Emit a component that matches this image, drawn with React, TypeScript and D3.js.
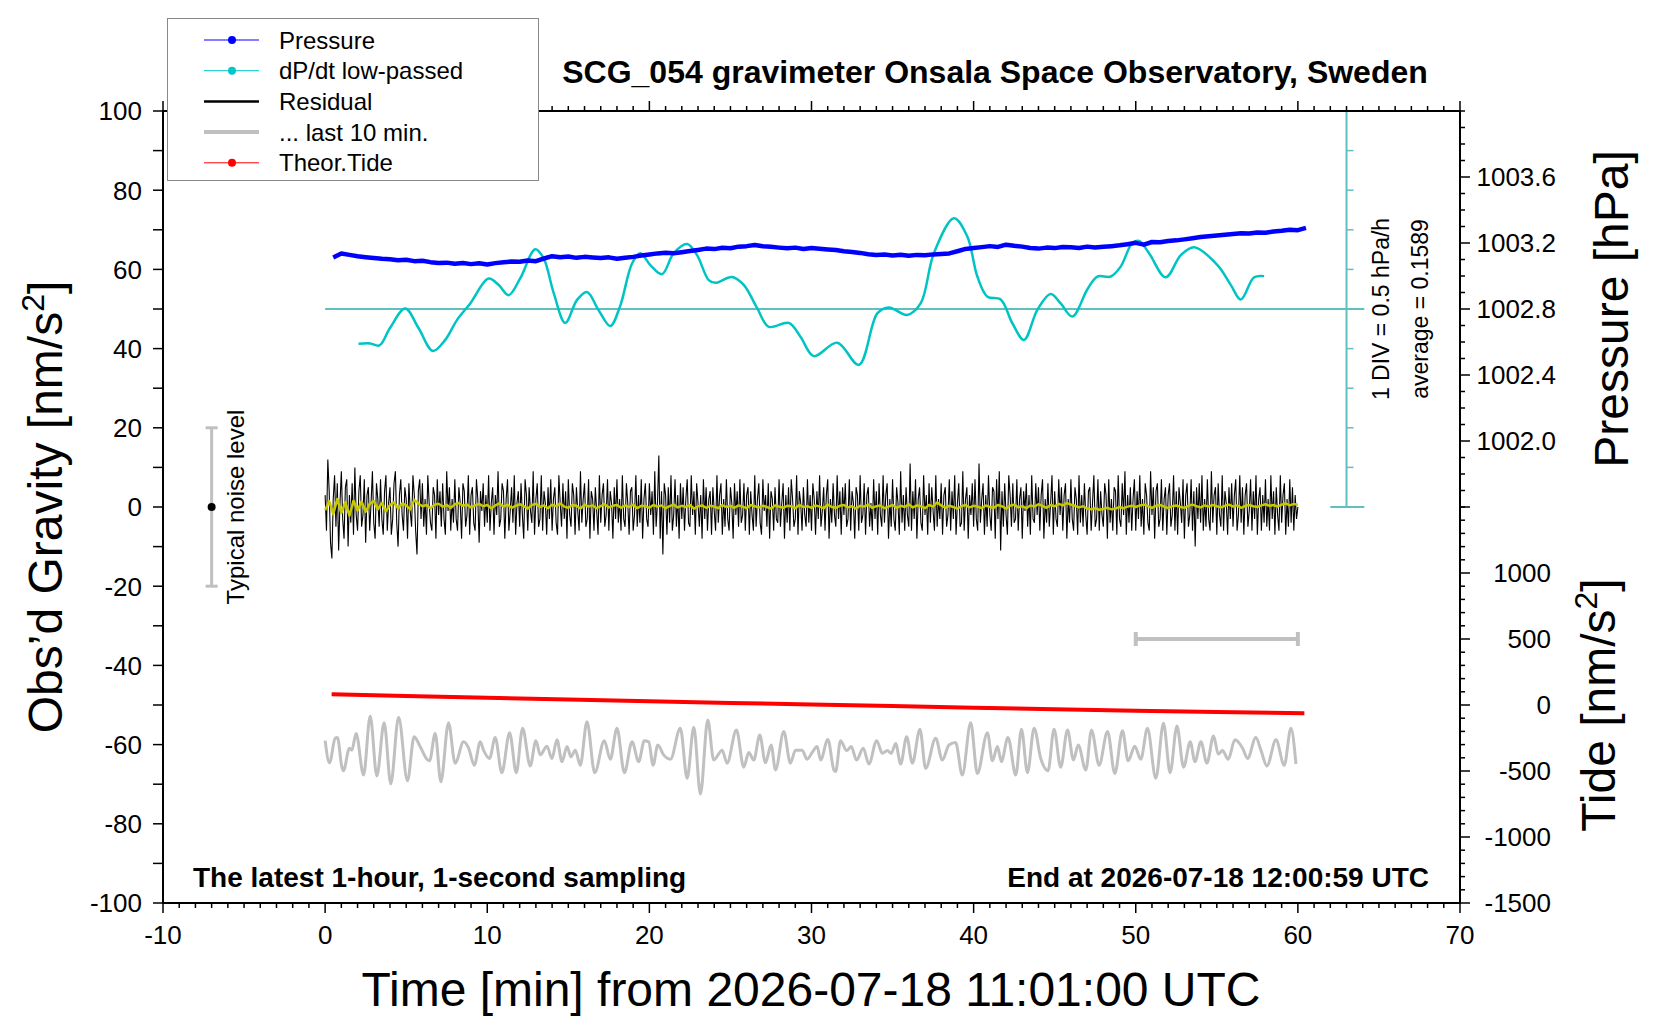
import React from 'react';
import * as d3 from 'd3';

// Pressure, hPa, read every 30 s off the blue trace (t = 0.5 ... 60.5 min)
const pressureStart = 0.5;
const pressureStep = 0.5;
const pressureHpa = [
  1003.112, 1003.136, 1003.128, 1003.12, 1003.114, 1003.109, 1003.104, 1003.101, 1003.096, 1003.099,
  1003.09, 1003.092, 1003.084, 1003.079, 1003.081, 1003.074, 1003.079, 1003.072, 1003.077, 1003.07,
  1003.078, 1003.083, 1003.088, 1003.086, 1003.094, 1003.09, 1003.106, 1003.12, 1003.114, 1003.118,
  1003.11, 1003.116, 1003.112, 1003.109, 1003.113, 1003.105, 1003.11, 1003.116, 1003.124, 1003.13,
  1003.137, 1003.141, 1003.138, 1003.144, 1003.151, 1003.158, 1003.166, 1003.163, 1003.171, 1003.168,
  1003.178, 1003.181, 1003.188, 1003.18, 1003.177, 1003.172, 1003.168, 1003.172, 1003.164, 1003.17,
  1003.165, 1003.161, 1003.157, 1003.15, 1003.146, 1003.14, 1003.132, 1003.127, 1003.13, 1003.124,
  1003.129, 1003.123, 1003.128, 1003.126, 1003.131, 1003.134, 1003.137, 1003.15, 1003.164, 1003.17,
  1003.175, 1003.181, 1003.176, 1003.19, 1003.183, 1003.178, 1003.17, 1003.166, 1003.172, 1003.169,
  1003.176, 1003.174, 1003.17, 1003.178, 1003.173, 1003.177, 1003.181, 1003.186, 1003.193, 1003.201,
  1003.19, 1003.206, 1003.204, 1003.212, 1003.216, 1003.222, 1003.229, 1003.236, 1003.241, 1003.245,
  1003.25, 1003.254, 1003.259, 1003.257, 1003.264, 1003.262, 1003.27, 1003.274, 1003.28, 1003.278,
  1003.292,
];

// dP/dt low-passed, hPa/h
const dpdtMin = [
  2.06, 2.78, 3.35, 4.0, 4.94, 5.76, 6.65, 7.41, 8.13, 8.95,
  10.08, 10.7, 11.32, 12.04, 12.96, 13.48, 14.1, 14.81, 15.54, 16.15,
  16.87, 17.59, 18.2, 18.93, 19.44, 20.06, 20.78, 21.5, 22.33, 22.94,
  23.66, 24.07, 25.1, 25.82, 26.65, 27.37, 28.6, 29.32, 30.14, 31.59,
  32.92, 34.06, 34.77, 35.9, 36.73, 37.55, 38.79, 39.61, 40.23, 40.85,
  41.67, 42.39, 43.11, 43.93, 44.75, 45.37, 46.09, 47.02, 47.63, 48.46,
  49.07, 49.79, 50.2, 50.82, 51.85, 52.78, 53.6, 55.04, 55.86, 56.48,
  57.3, 57.92,
];
const dpdtRate = [
  -0.44, -0.435, -0.46, -0.24, 0.005, -0.24, -0.53, -0.39, -0.14, 0.07,
  0.385, 0.305, 0.175, 0.39, 0.755, 0.64, 0.2, -0.175, 0.115, 0.215,
  -0.015, -0.215, 0.04, 0.575, 0.705, 0.555, 0.44, 0.705, 0.82, 0.68,
  0.365, 0.33, 0.405, 0.305, 0.01, -0.225, -0.175, -0.35, -0.595, -0.425,
  -0.705, -0.055, 0.02, -0.075, 0.07, 0.705, 1.145, 0.915, 0.41, 0.155,
  0.12, -0.18, -0.39, -0.01, 0.19, 0.07, -0.095, 0.25, 0.41, 0.41,
  0.535, 0.835, 0.86, 0.705, 0.4, 0.68, 0.78, 0.555, 0.305, 0.12,
  0.4, 0.415,
];
const dpdtAverage = 0.1589;
const dpdtDiv = 0.5;

// residual, nm/s^2, one value every 5 s from 0 to 60 min
const resStep = 1 / 12;
const residual = [
  3, -6, 12, 4, -9, -13, 2, 8, -5, 6, -11, 1, 9, -3, -8, 5, 7, -10, 3, -4, 6, -7, 10, -2,
  -6, 4, 8, -5, -2, 7, -9, 3, 5, -6, 1, 9, -4, -8, 6, 2, -5, 7, -3, -7, 4, 8, -6, 1,
  5, -7, -3, 6, 9, -4, -10, 3, 7, -2, -6, 5, 2, -8, 6, -1, -5, 8, 3, -6, -12, 4, 7, -3,
  6, -5, 2, -7, 8, 1, -4, -6, 5, 3, -8, 7, -2, 4, -5, 6, -3, -7, 9, -1, 5, -6, 2, -4,
  7, -3, -6, 5, 1, -8, 6, 4, -5, -2, 8, -7, 3, 5, -4, -6, 7, 2, -9, 4, -1, 6, -5, 3,
  -4, 8, -6, 1, 5, -7, 3, -2, 9, -5, -3, 6, 4, -8, 2, 7, -6, -1, 5, -4, 8, -7, 1, 4,
  -5, 6, -2, -8, 7, 3, -6, 5, -1, -4, 9, -7, 2, 6, -5, -3, 8, -6, 4, 1, -7, 5, -3, 7,
  -6, 2, 5, -4, -7, 8, 1, -5, 6, -3, 4, -8, 7, -2, -5, 6, 3, -7, 5, -1, -6, 9, -4, 2,
  6, -5, -3, 7, -8, 4, 2, -6, 5, -1, -7, 8, -4, 3, 6, -5, -2, 7, -6, 4, 1, -8, 5, -3,
  7, -4, 2, -6, 8, -3, -5, 6, 1, -7, 4, 5, -6, -2, 8, -5, 3, -4, 7, -8, 2, 6, -3, -5,
  6, -2, 4, -7, 9, -5, 1, 13, -8, 4, -12, 6, 3, -7, 5, -4, 8, -6, -2, 7, -5, 3, -8, 6,
  -3, 5, -6, 2, 7, -4, -5, 8, -2, 4, -7, 6, 1, -5, 3, -8, 7, -3, 5, -6, 2, 4, -7, 5,
  -1, -6, 8, -4, 3, 6, -7, 2, -5, 7, -3, -6, 5, 1, -8, 6, -2, 4, -5, 7, -4, -2, 6, -6,
  3, 5, -7, 4, -2, -6, 8, -5, 2, 6, -4, -7, 7, -1, 3, -5, 6, -8, 4, 2, -6, 5, -3, -4,
  7, -5, 1, 6, -8, 3, -4, 5, -6, 7, 2, -5, -3, 8, -7, 4, 1, -6, 5, -2, -5, 7, -4, 3,
  -6, 6, 2, -7, 4, -3, 8, -5, -1, 5, -6, 3, 7, -8, 2, -4, 6, -2, -5, 8, -3, 4, -7, 5,
  -2, 6, -5, -3, 7, -6, 4, 1, -8, 5, 3, -6, 8, -4, -2, 6, -7, 3, 5, -5, 1, -6, 7, -3,
  4, -7, 6, -2, -5, 8, -4, 3, 6, -8, 2, -5, 7, -3, -6, 5, 1, -7, 9, -4, 3, -6, 5, -2,
  -5, 11, -6, 4, -3, 7, -8, 2, 5, -4, -6, 8, -2, 3, -7, 6, -4, 5, -1, -6, 8, -5, 2, -3,
  6, -7, 3, 5, -5, -2, 7, -6, 4, -3, 8, -7, 1, 6, -5, -4, 9, -6, 2, 5, -8, 3, -2, 6,
  -5, 7, -3, -6, 11, -4, 2, 6, -7, 3, -5, 8, -2, -6, 5, 4, -8, 7, -3, 9, -11, 4, -5, 6,
  -2, -7, 8, 3, -5, 6, -4, -3, 7, -6, 2, 5, -8, 4, -1, 6, -5, 3, -7, 8, -3, -4, 6, -2,
  5, -6, 3, 7, -8, 2, -4, 6, -5, 1, 8, -7, 4, -3, -5, 7, -2, 5, -6, 3, 6, -8, 2, -4,
  7, -3, -6, 5, 2, -7, 8, -4, 3, -5, 6, -2, -7, 4, 5, -6, 1, 8, -5, -3, 7, -6, 4, -2,
  -5, 6, 3, -8, 7, -4, 2, -6, 5, 4, -7, 8, -3, -5, 6, -2, 9, -7, 3, -4, 5, -6, 2, 7,
  -6, 4, -3, 8, -5, 2, -7, 6, 3, -4, -6, 9, -2, 5, -8, 4, 6, -5, -3, 7, -6, 2, 5, -7,
  3, 6, -5, -2, 8, -6, 4, -7, 5, 1, -4, 7, -8, 3, 6, -5, -2, 7, -6, 4, -10, 5, -3, 6,
  -4, 8, -6, 2, -5, 7, -3, -6, 9, -4, 3, 5, -7, 6, -2, -5, 8, -6, 4, 1, -7, 5, -3, 6,
  -5, 3, 7, -6, -2, 8, -4, 5, -7, 3, 6, -5, -1, 7, -6, 4, -3, 8, -7, 2, 5, -6, 3, -4,
  7, -5, 2, -6, 8, -3, 4, -7, 5, -2, -6, 8, -4, 3, 6, -7, 2, -5, 7, -4, 5, -6, 3, -3,
  0,
];

// smoothed residual (yellow), every 15 s
const smoothStep = 0.25;
const residualSmooth = [
  -0.8, 1.5, -1.8, 2.0, -1.5, 1.2, -2.2, 1.6, -0.9, 1.4, -1.2, 0.8, 1.5, -0.6, 1.0, -1.1, 0.5, 1.2, -0.4, 0.9,
  0.4, -0.6, 1.8, 0.9, 0.2, 0.5, -0.3, 0.6, 0.8, 0.1, 0.5, -0.2, 0.7, 1.0, 0.3, 0.6, -0.1, 0.4, 0.8, 0.2,
  0.5, -0.3, 0.4, 0.9, 0.1, 0.6, -0.2, 0.3, 0.7, 0.2, -0.4, 0.5, 0.8, 0.0, 0.4, -0.3, 0.6, 0.2, 0.9, 0.1,
  -0.2, 0.5, 0.3, -0.4, 0.6, 0.1, 0.4, -0.3, 0.2, 0.7, -0.1, 0.3, 0.5, -0.2, 0.4, 0.0, 0.6, -0.3, 0.3, 0.2,
  -0.2, 0.5, 0.1, 0.4, -0.3, 0.2, 0.6, -0.1, 0.3, 0.0, 0.5, -0.4, 0.2, 0.4, -0.2, 0.3, 0.1, -0.3, 0.5, 0.0,
  0.3, -0.2, 0.4, 0.1, -0.3, 0.5, 0.2, -0.1, 0.3, 0.0, -0.4, 0.4, 0.1, -0.2, 0.3, 0.2, -0.3, 0.5, 0.0, 0.2,
  -0.2, 0.4, 0.1, -0.3, 0.6, 0.0, -0.2, 0.3, 0.5, -0.1, 0.2, -0.4, 0.3, 0.1, 0.6, -0.2, 0.2, 0.4, -0.3, 0.1,
  0.5, -0.2, 0.3, 0.0, 0.7, -0.1, 0.4, 0.2, -0.3, 0.5, 0.1, 1.2, 0.4, -0.2, 0.3, 0.0, -0.4, 0.2, 0.5, -0.1,
  0.3, 0.1, -0.3, 0.4, 0.0, -0.2, 0.5, 0.2, -0.4, 0.3, 0.6, -0.1, 0.2, -0.3, 0.4, 0.1, 0.7, 0.3, -0.2, 0.5,
  0.2, 0.8, 0.4, 1.0, 0.6, 0.3, -0.1, 0.2, -0.4, -0.6, -0.3, -0.7, -0.5, -0.2, -0.6, -0.4, 0.0, -0.3, 0.1, 0.3,
  0.0, 0.4, 0.6, 0.2, -0.2, 0.3, 0.5, 0.1, -0.3, 0.2, 0.4, 0.0, -0.2, 0.3, 0.6, 0.2, -0.1, 0.4, 0.1, 0.5,
  0.2, -0.1, 0.3, 0.6, 0.1, 0.4, -0.2, 0.3, 0.5, 0.2, 0.0, 0.4, 0.7, 0.3, 0.5, 0.1, 0.6, 0.9, 0.4, 0.8,
  0.5,
];

// last 10 min of the residual, stretched over the hour (grey trace)
const lastMin = [
  0.0, 0.27, 0.62, 0.76, 1.03, 1.13, 1.5, 1.65, 1.91, 2.37,
  2.78, 3.19, 3.64, 4.05, 4.53, 5.08, 5.49, 5.86, 6.28, 6.44,
  6.79, 7.14, 7.61, 8.02, 8.54, 8.85, 9.2, 9.57, 9.77, 10.14,
  10.49, 10.9, 11.38, 11.79, 12.18, 12.65, 13.0, 13.27, 13.68, 13.99,
  14.3, 14.61, 14.92, 15.16, 15.43, 15.74, 16.15, 16.63, 17.22, 17.59,
  18.0, 18.46, 18.93, 19.34, 19.69, 19.96, 20.23, 20.52, 20.88, 21.3,
  21.91, 22.33, 22.74, 23.15, 23.6, 23.97, 24.49, 24.79, 25.37, 25.82,
  26.13, 26.44, 26.81, 27.16, 27.51, 27.78, 28.29, 28.7, 29.01, 29.42,
  29.73, 30.04, 30.35,
  30.56, 31.01, 31.38, 31.49, 31.79, 32.17, 32.45, 32.78, 33.19, 33.54,
  34.02, 34.37, 34.68, 34.92, 35.19, 35.5, 35.87, 36.22, 36.69, 37.04,
  37.66, 38.07, 38.48, 38.89, 39.3, 39.82, 40.23, 40.85, 41.16, 41.47,
  41.71, 42.12, 42.6, 42.95, 43.32, 43.73, 44.14, 44.59, 44.96, 45.37,
  45.79, 46.16, 46.45, 46.92, 47.27, 47.74, 48.26, 48.71, 49.18, 49.53,
  49.94, 50.31, 50.72, 51.24, 51.71, 52.12, 52.54, 52.95, 53.36, 53.65,
  54.02, 54.39, 54.8, 55.09, 55.35, 55.7, 56.12, 56.59, 56.9, 57.41,
  57.72, 58.09, 58.65, 59.16, 59.57, 59.88,
];
const lastVal = [
  2.0, -3.6, 2.6, 2.8, -4.6, -5.6, 0.1, -0.4, 3.8, -6.7,
  8.2, -6.9, 6.5, -8.9, 7.9, -8.1, 3.0, 0.5, -2.7, -3.1,
  3.8, -8.4, 6.5, -3.7, 1.7, 0.1, -4.2, 1.7, -0.4, -2.5,
  2.8, -6.1, 4.0, -6.1, 5.1, -4.4, 2.0, -1.6, 0.6, -2.5,
  2.2, -3.3, 0.5, -2.1, -0.4, -4.2, 6.8, -6.1, 2.0, -2.7,
  5.1, -6.1, 1.7, -3.3, 2.0, 1.7, -4.2, 0.9, -1.6, -2.7,
  5.1, -7.5, 5.4, -11.5, 7.2, -2.9, -0.4, -3.7, 4.7, -4.7,
  -1.0, -2.9, 3.4, -3.6, 0.9, -5.4, 4.3, -3.7, -0.4, -0.4,
  -2.7, -1.0, 0.5,
  -2.9, 2.3, -5.4, -5.8, 2.0, -0.5, 0.5, -2.9, 0.1, -3.9,
  2.0, -1.2, -0.5, -1.2, 1.3, -3.9, 3.0, -3.7, 4.9, -5.0,
  2.6, -2.9, 0.9, 1.5, -6.7, 6.5, -6.3, 4.0, -3.1, 0.5,
  -3.3, 2.8, -6.7, 4.9, -6.1, 5.1, -2.5, -5.6, 4.9, -4.7,
  4.7, -2.9, 0.9, -5.4, 4.7, -4.2, 4.3, -6.3, 4.5, -3.1,
  0.6, -2.7, 5.1, -7.5, 6.4, -6.1, 5.7, -4.7, 1.7, -3.3,
  1.7, -3.7, 3.2, -1.4, -0.5, -2.7, 2.2, 0.1, -2.5, 2.8,
  -0.4, -4.4, 2.2, -4.2, 5.1, -3.9,
];
const lastOffset = -61;

// theoretical tide, nm/s^2
const tideMin = [0.4, 5, 10, 15, 20, 25, 30, 35, 40, 45, 50, 55, 60.4];
const tideVal = [81, 69, 55, 42, 29, 16, 4, -8, -20, -32, -43, -53, -63];

const pressureLabels = [1002.0, 1002.4, 1002.8, 1003.2, 1003.6];
const tideLabels = [-1500, -1000, -500, 0, 500, 1000];
const noiseLevel = 20;

const legendItems = [
  { label: 'Pressure', color: '#0000ff', width: 1, dot: true },
  { label: 'dP/dt low-passed', color: '#00c8c8', width: 1, dot: true },
  { label: 'Residual', color: '#000000', width: 2.5, dot: false },
  { label: '... last 10 min.', color: '#c0c0c0', width: 4, dot: false },
  { label: 'Theor.Tide', color: '#ff0000', width: 1, dot: true },
];

const FONT = '"Liberation Sans", Arial, Helvetica, sans-serif';
const W = 1660;
const H = 1020;
const CYAN = '#00c4c4';
const CYAN_AXIS = '#60c0c0';
const GREY = '#c0c0c0';

const App: React.FC = () => {
  const x = d3.scaleLinear().domain([-10, 70]).range([163, 1460]);
  const yG = d3.scaleLinear().domain([-100, 100]).range([903, 111]);
  const yP = d3.scaleLinear().domain([1001.6, 1004.0]).range([yG(0), yG(100)]);
  const yT = d3.scaleLinear().domain([-1500, 1500]).range([yG(-100), yG(0)]);
  const yD = d3.scaleLinear().domain([-5 * dpdtDiv, 5 * dpdtDiv]).range([yG(0), yG(100)]);

  const [x0, x1] = x.range();
  const [yb, yt] = yG.range();

  const pressurePath = d3.line<number>().x((_, i) => x(pressureStart + i * pressureStep)).y(d => yP(d))(pressureHpa) || '';
  const dpdtPath = d3.line<number>().x((_, i) => x(dpdtMin[i])).y(d => yD(d)).curve(d3.curveCatmullRom)(dpdtRate) || '';
  const residualPath = d3.line<number>().x((_, i) => x(i * resStep)).y(d => yG(d))(residual) || '';
  const smoothPath = d3.line<number>().x((_, i) => x(i * smoothStep)).y(d => yG(d))(residualSmooth) || '';
  const tidePath = d3.line<number>().x((_, i) => x(tideMin[i])).y(d => yT(d))(tideVal) || '';
  const lastPath = d3.line<number>().x((_, i) => x(lastMin[i])).y(d => yG(lastOffset + d)).curve(d3.curveMonotoneX)(lastVal) || '';

  const xMinor = x.ticks(80);
  const xMajor = x.ticks(8);
  const gTicks = yG.ticks(20);
  const gLabels = yG.ticks(10);
  const pTicks = yP.ticks(24);
  const tTicks = yT.ticks(30);
  const dTicks = yD.ticks(10);

  const cyanX = x(63);
  const tick = 10;
  const minor = 5;

  return (
    <svg width={W} height={H} style={{ position: 'absolute', left: 0, top: 0, background: '#fff' }} fontFamily={FONT}>
      <rect width={W} height={H} fill="#fff" />

      {/* title */}
      <text x={995} y={83} textAnchor="middle" fontSize={32} fontWeight="bold">
        SCG_054 gravimeter Onsala Space Observatory, Sweden
      </text>

      {/* dP/dt scale bar */}
      <line x1={cyanX} x2={cyanX} y1={yD(-2.5)} y2={yD(2.5)} stroke={CYAN_AXIS} strokeWidth={2} />
      <line x1={x(62)} x2={x(64.1)} y1={yD(2.5)} y2={yD(2.5)} stroke={CYAN_AXIS} strokeWidth={2} />
      <line x1={x(62)} x2={x(64.1)} y1={yD(-2.5)} y2={yD(-2.5)} stroke={CYAN_AXIS} strokeWidth={2} />
      {dTicks.map(d => (
        <line key={`d${d}`} x1={cyanX} x2={cyanX + 7} y1={yD(d)} y2={yD(d)} stroke={CYAN_AXIS} strokeWidth={1.5} />
      ))}
      <line x1={x(0)} x2={x(64.1)} y1={yD(0)} y2={yD(0)} stroke={CYAN_AXIS} strokeWidth={2} />
      <text transform={`translate(1389,${yD(0)}) rotate(-90)`} textAnchor="middle" fontSize={23}>
        1 DIV = {dpdtDiv} hPa/h
      </text>
      <text transform={`translate(1428,${yD(0)}) rotate(-90)`} textAnchor="middle" fontSize={23}>
        average = {dpdtAverage}
      </text>

      {/* series */}
      <path d={dpdtPath} fill="none" stroke={CYAN} strokeWidth={2.5} />
      <path d={pressurePath} fill="none" stroke="#0000ff" strokeWidth={4.5} strokeLinejoin="round" />
      <path d={residualPath} fill="none" stroke="#000" strokeWidth={1.1} />
      <path d={smoothPath} fill="none" stroke="#c8c800" strokeWidth={2.5} strokeLinejoin="round" />
      <path d={tidePath} fill="none" stroke="#ff0000" strokeWidth={4} />
      <path d={lastPath} fill="none" stroke={GREY} strokeWidth={3} strokeLinejoin="round" />

      {/* last 10 min marker */}
      <line x1={x(50)} x2={x(60)} y1={yT(500)} y2={yT(500)} stroke={GREY} strokeWidth={4} />
      <line x1={x(50)} x2={x(50)} y1={yT(500) - 7} y2={yT(500) + 7} stroke={GREY} strokeWidth={4} />
      <line x1={x(60)} x2={x(60)} y1={yT(500) - 7} y2={yT(500) + 7} stroke={GREY} strokeWidth={4} />

      {/* typical noise level */}
      <line x1={x(-7)} x2={x(-7)} y1={yG(noiseLevel)} y2={yG(-noiseLevel)} stroke={GREY} strokeWidth={3} />
      <line x1={x(-7) - 6} x2={x(-7) + 6} y1={yG(noiseLevel)} y2={yG(noiseLevel)} stroke={GREY} strokeWidth={3} />
      <line x1={x(-7) - 6} x2={x(-7) + 6} y1={yG(-noiseLevel)} y2={yG(-noiseLevel)} stroke={GREY} strokeWidth={3} />
      <circle cx={x(-7)} cy={yG(0)} r={4} fill="#000" />
      <text transform={`translate(244,${yG(0)}) rotate(-90)`} textAnchor="middle" fontSize={24}>
        Typical noise level
      </text>

      {/* frame */}
      <rect x={x0} y={yt} width={x1 - x0} height={yb - yt} fill="none" stroke="#000" strokeWidth={2} />

      {/* bottom & top axes */}
      {xMinor.map(t => {
        const len = xMajor.includes(t) ? tick : minor;
        return (
          <g key={`x${t}`}>
            <line x1={x(t)} x2={x(t)} y1={yb} y2={yb + len} stroke="#000" strokeWidth={1.5} />
            <line x1={x(t)} x2={x(t)} y1={yt} y2={yt - len} stroke="#000" strokeWidth={1.5} />
          </g>
        );
      })}
      {xMajor.map(t => (
        <text key={`xl${t}`} x={x(t)} y={944} textAnchor="middle" fontSize={26}>{t}</text>
      ))}

      {/* left axis */}
      {gTicks.map(g => (
        <line key={`g${g}`} x1={x0} x2={x0 - tick} y1={yG(g)} y2={yG(g)} stroke="#000" strokeWidth={1.5} />
      ))}
      {gLabels.map(g => (
        <text key={`gl${g}`} x={142} y={yG(g)} dy="0.36em" textAnchor="end" fontSize={26}>{g}</text>
      ))}

      {/* right axis: pressure (upper half), tide (lower half) */}
      {pTicks.map(p => {
        const major = pressureLabels.some(v => Math.abs(v - p) < 1e-6);
        return <line key={`p${p}`} x1={x1} x2={x1 + (major ? tick : minor)} y1={yP(p)} y2={yP(p)} stroke="#000" strokeWidth={1.5} />;
      })}
      {pressureLabels.map(p => (
        <text key={`pl${p}`} x={1556} y={yP(p)} dy="0.36em" textAnchor="end" fontSize={26}>{p.toFixed(1)}</text>
      ))}
      {tTicks.map(t => (
        <line key={`t${t}`} x1={x1} x2={x1 + (t % 500 === 0 ? tick : minor)} y1={yT(t)} y2={yT(t)} stroke="#000" strokeWidth={1.5} />
      ))}
      {tideLabels.map(t => (
        <text key={`tl${t}`} x={1551} y={yT(t)} dy="0.36em" textAnchor="end" fontSize={26}>{t}</text>
      ))}

      {/* axis titles */}
      <text x={811} y={1006} textAnchor="middle" fontSize={48}>
        Time [min] from 2026-07-18 11:01:00 UTC
      </text>
      <text transform={`translate(62,${yG(0)}) rotate(-90)`} textAnchor="middle" fontSize={48}>
        Obs’d Gravity [nm/s<tspan dy={-18} fontSize={32}>2</tspan><tspan dy={18}>]</tspan>
      </text>
      <text transform={`translate(1628,${yG(50)}) rotate(-90)`} textAnchor="middle" fontSize={48}>
        Pressure [hPa]
      </text>
      <text transform={`translate(1615,${yG(-50)}) rotate(-90)`} textAnchor="middle" fontSize={48}>
        Tide [nm/s<tspan dy={-18} fontSize={32}>2</tspan><tspan dy={18}>]</tspan>
      </text>

      {/* in-frame notes */}
      <text x={193} y={887} fontSize={28} fontWeight="bold">The latest 1-hour, 1-second sampling</text>
      <text x={1429} y={887} textAnchor="end" fontSize={28} fontWeight="bold">End at 2026-07-18 12:00:59 UTC</text>

      {/* legend */}
      <rect x={167.5} y={18.5} width={371} height={162} fill="#fff" stroke="#888" strokeWidth={1} />
      {legendItems.map((it, i) => {
        const cy = 40 + i * 30.7;
        return (
          <g key={it.label}>
            <line x1={204} x2={259} y1={cy} y2={cy} stroke={it.color} strokeWidth={it.width} />
            {it.dot && <circle cx={232} cy={cy} r={4} fill={it.color} />}
            <text x={279} y={cy} dy="0.36em" fontSize={24}>{it.label}</text>
          </g>
        );
      })}
    </svg>
  );
};

export default App;
